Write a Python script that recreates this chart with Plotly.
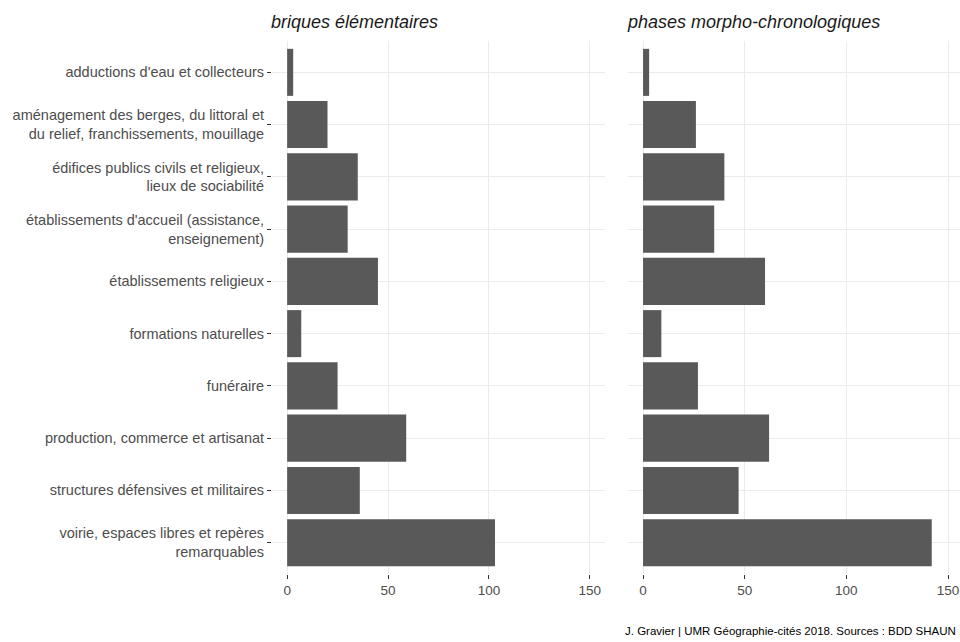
import plotly.graph_objects as go

categories = [
    "adductions d'eau et collecteurs",
    "aménagement des berges, du littoral et<br>du relief, franchissements, mouillage",
    "édifices publics civils et religieux,<br>lieux de sociabilité",
    "établissements d'accueil (assistance,<br>enseignement)",
    "établissements religieux",
    "formations naturelles",
    "funéraire",
    "production, commerce et artisanat",
    "structures défensives et militaires",
    "voirie, espaces libres et repères<br>remarquables",
]
briques = [3, 20, 35, 30, 45, 7, 25, 59, 36, 103]
phases = [3, 26, 40, 35, 60, 9, 27, 62, 47, 142]
facet_titles = ["briques élémentaires", "phases morpho-chronologiques"]
x_ticks = [0, 50, 100, 150]
caption = "J. Gravier | UMR Géographie-cités 2018. Sources : BDD SHAUN"

W, H = 960, 642
BAR = "#595959"
GRID = "#ebebeb"
TXT = "#4d4d4d"
FONT = "Liberation Sans, Arial, sans-serif"


def px(x):
    return x / W


def py(y):
    return 1 - y / H


fig = go.Figure()
fig.add_trace(go.Bar(y=categories, x=briques, orientation="h", marker=dict(color=BAR, line=dict(width=0)),
                     width=0.9, xaxis="x", yaxis="y", showlegend=False, hoverinfo="skip"))
fig.add_trace(go.Bar(y=categories, x=phases, orientation="h", marker=dict(color=BAR, line=dict(width=0)),
                     width=0.9, xaxis="x2", yaxis="y2", showlegend=False, hoverinfo="skip"))

ydom = [py(574), py(41)]
xcommon = dict(tickvals=x_ticks, showgrid=True, gridcolor=GRID, gridwidth=1, zeroline=False,
               ticks="outside", ticklen=4, tickcolor="#333333", tickwidth=1, automargin=False,
               tickfont=dict(family=FONT, size=13.5, color=TXT), showline=False)
ycommon = dict(type="category", categoryorder="array", categoryarray=categories, automargin=False,
               range=[9.6, -0.6], showgrid=True, gridcolor=GRID, gridwidth=1, zeroline=False, showline=False)

fig.update_layout(
    width=W, height=H,
    margin=dict(l=0, r=0, t=0, b=0, autoexpand=False),
    paper_bgcolor="white", plot_bgcolor="white",
    bargap=0.1,
    xaxis=dict(domain=[px(272), px(605)], range=[-7.5, 157.5], anchor="y", **xcommon),
    xaxis2=dict(domain=[px(628), 1.0], range=[-7.4, 155.9], anchor="y2", **xcommon),
    yaxis=dict(domain=ydom, anchor="x", ticks="outside", ticklen=4, tickcolor="#333333", tickwidth=1,
               tickfont=dict(family=FONT, size=14.5, color=TXT), **ycommon),
    yaxis2=dict(domain=ydom, anchor="x2", showticklabels=False, ticks="", **ycommon),
    annotations=[
        dict(text="<i>" + facet_titles[0] + "</i>", x=px(269), y=py(22), xref="paper", yref="paper",
             xanchor="left", yanchor="middle", showarrow=False,
             font=dict(family=FONT, size=18, color="#1a1a1a")),
        dict(text="<i>" + facet_titles[1] + "</i>", x=px(625), y=py(22), xref="paper", yref="paper",
             xanchor="left", yanchor="middle", showarrow=False,
             font=dict(family=FONT, size=18, color="#1a1a1a")),
        dict(text=caption, x=px(958), y=py(631), xref="paper", yref="paper",
             xanchor="right", yanchor="middle", showarrow=False,
             font=dict(family=FONT, size=11.5, color="black")),
    ],
)

fig.write_html("out.html", config={"displayModeBar": False},
               post_script="document.body.style.margin='0';document.body.style.overflow='hidden';")
